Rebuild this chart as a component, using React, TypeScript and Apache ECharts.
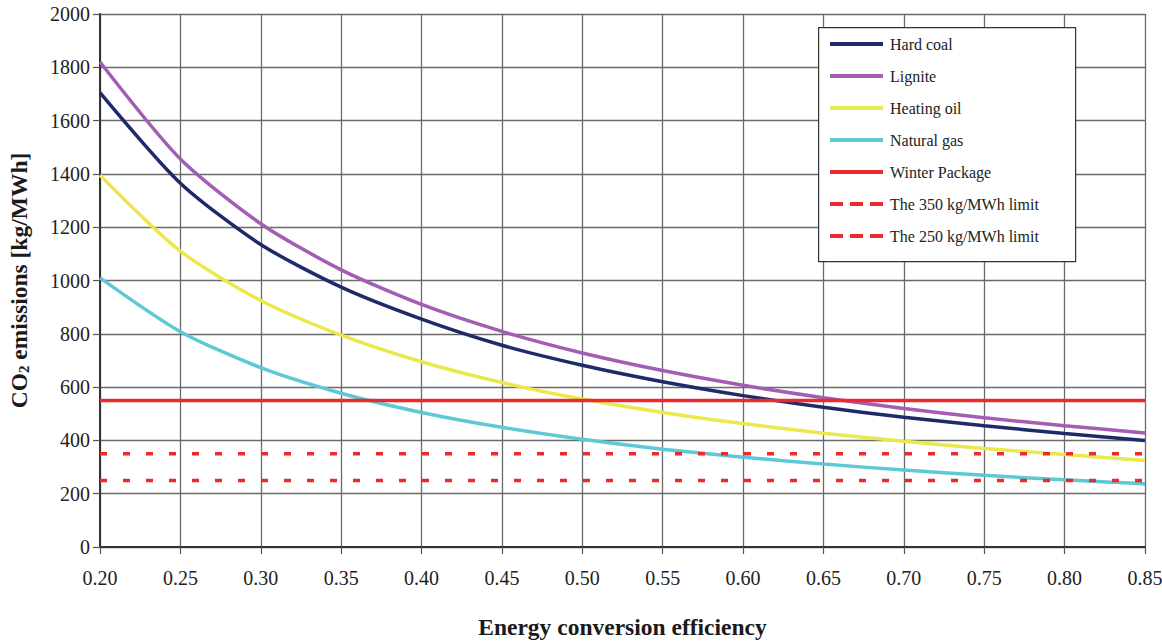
import React, { useEffect, useRef } from "react";
import * as echarts from "echarts";

const efficiency = ["0.20", "0.25", "0.30", "0.35", "0.40", "0.45", "0.50", "0.55", "0.60", "0.65", "0.70", "0.75", "0.80", "0.85"];
const hardCoal = [1705, 1365, 1135, 975, 855, 757, 682, 620, 568, 524, 487, 455, 426, 400];
const lignite = [1820, 1456, 1213, 1040, 910, 809, 728, 662, 607, 560, 520, 485, 455, 428];
const heatingOil = [1395, 1110, 925, 795, 695, 617, 555, 505, 463, 427, 397, 370, 347, 325];
const naturalGas = [1010, 808, 673, 577, 505, 449, 404, 367, 337, 311, 289, 269, 252, 237];
const winterPackage = [550, 550, 550, 550, 550, 550, 550, 550, 550, 550, 550, 550, 550, 550];
const limit350 = [350, 350, 350, 350, 350, 350, 350, 350, 350, 350, 350, 350, 350, 350];
const limit250 = [250, 250, 250, 250, 250, 250, 250, 250, 250, 250, 250, 250, 250, 250];
const yTicks = [0, 2000, 200];

const FONT = "'Liberation Serif', 'DejaVu Serif', serif";
const SOLID_ICON = "path://M0,0h53v4h-53z";
const DASH_ICON = "path://M0,0h13v4h-13z M20,0h13v4h-13z M40,0h13v4h-13z";

export default function App() {
  const ref = useRef<HTMLDivElement>(null);
  useEffect(() => {
    if (!ref.current) return;
    const chart = echarts.init(ref.current, undefined, { renderer: "svg" });
    const solid = (name: string, data: number[], color: string, width = 3.5) => ({
      name,
      type: "line",
      data,
      smooth: 0.25,
      symbol: "none",
      showSymbol: false,
      lineStyle: { color, width },
      itemStyle: { color },
    });
    const dashed = (name: string, data: number[]) => ({
      name,
      type: "line",
      data,
      symbol: "none",
      showSymbol: false,
      lineStyle: { color: "#ec2a2d", width: 3.5, type: [7, 16] },
      itemStyle: { color: "#ec2a2d" },
    });
    chart.setOption({
      animation: false,
      backgroundColor: "#ffffff",
      textStyle: { fontFamily: FONT },
      grid: { left: 100, right: 17, top: 14, bottom: 96, containLabel: false, outerBoundsMode: "none" },
      xAxis: {
        type: "category",
        data: efficiency,
        boundaryGap: false,
        name: "Energy conversion efficiency",
        nameLocation: "middle",
        nameGap: 68,
        nameTextStyle: { fontFamily: FONT, fontSize: 23.5, fontWeight: "bold", color: "#1a1a1a" },
        axisLine: { show: true, lineStyle: { color: "#333", width: 2 } },
        axisTick: { show: true, alignWithLabel: true, length: 7, lineStyle: { color: "#555", width: 1.2 } },
        axisLabel: { fontFamily: FONT, fontSize: 20, color: "#222", margin: 21 },
        splitLine: { show: true, lineStyle: { color: "#6a6a6a", width: 1.3 } },
      },
      yAxis: {
        type: "value",
        min: yTicks[0],
        max: yTicks[1],
        interval: yTicks[2],
        name: "{a|CO}{b|2}{a| emissions [kg/MWh]}",
        nameLocation: "middle",
        nameRotate: 90,
        nameGap: 69,
        nameTextStyle: {
          rich: {
            a: { fontFamily: FONT, fontSize: 23.5, fontWeight: "bold", color: "#1a1a1a" },
            b: { fontFamily: FONT, fontSize: 15, fontWeight: "bold", color: "#1a1a1a", padding: [10, 0, 0, 0] },
          },
        },
        axisLine: { show: true, lineStyle: { color: "#333", width: 2 } },
        axisTick: { show: true, length: 7, lineStyle: { color: "#555", width: 1.2 } },
        axisLabel: { fontFamily: FONT, fontSize: 20, color: "#222", margin: 10, formatter: (v: number) => String(v) },
        splitLine: { show: true, lineStyle: { color: "#6a6a6a", width: 1.3 } },
      },
      legend: {
        orient: "vertical",
        left: 830,
        top: 36,
        itemWidth: 53,
        itemHeight: 16,
        itemGap: 16,
        padding: 0,
        z: 20,
        textStyle: { fontFamily: FONT, fontSize: 16, color: "#222", padding: [0, 0, 0, 2] },
        data: [
          { name: "Hard coal", icon: SOLID_ICON },
          { name: "Lignite", icon: SOLID_ICON },
          { name: "Heating oil", icon: SOLID_ICON },
          { name: "Natural gas", icon: SOLID_ICON },
          { name: "Winter Package", icon: SOLID_ICON },
          { name: "The 350 kg/MWh limit", icon: DASH_ICON },
          { name: "The 250 kg/MWh limit", icon: DASH_ICON },
        ],
      },
      graphic: [
        {
          type: "rect",
          left: 818,
          top: 27,
          shape: { width: 257, height: 234 },
          style: { fill: "#ffffff", stroke: "#333", lineWidth: 1.2 },
          z: 10,
        },
      ],
      series: [
        solid("Hard coal", hardCoal, "#1f2a6b"),
        solid("Lignite", lignite, "#a35db3"),
        solid("Heating oil", heatingOil, "#ebe84c"),
        solid("Natural gas", naturalGas, "#5dc9d6"),
        solid("Winter Package", winterPackage, "#ec2a2d"),
        dashed("The 350 kg/MWh limit", limit350),
        dashed("The 250 kg/MWh limit", limit250),
      ],
    });
    return () => chart.dispose();
  }, []);
  return <div ref={ref} style={{ width: 1162, height: 643, position: "absolute", left: 0, top: 0 }} />;
}
